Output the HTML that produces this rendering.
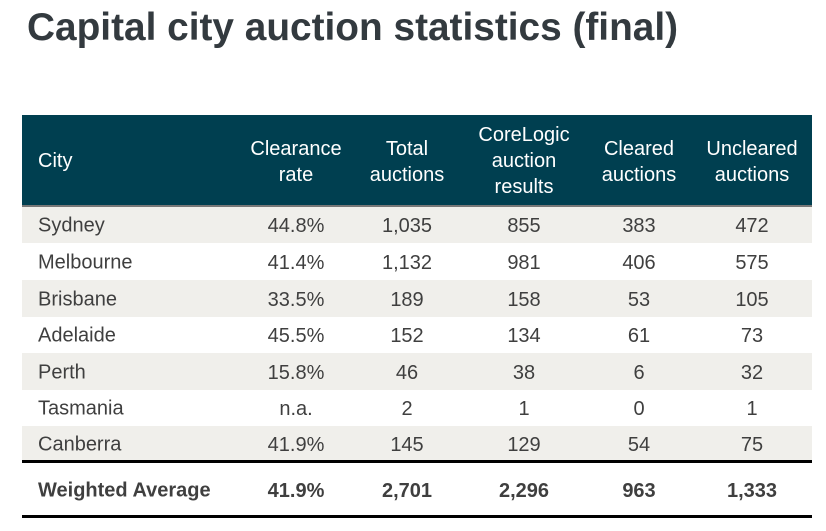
<!DOCTYPE html>
<html><head><meta charset="utf-8"><style>
body{margin:0;width:826px;height:531px;background:#fff;font-family:"Liberation Sans",sans-serif;position:relative;overflow:hidden}
#title{position:absolute;left:27px;top:6px;font-size:38.8px;font-weight:bold;color:#333a3f;white-space:nowrap}
.hdr{position:absolute;left:22px;top:115px;width:790px;height:90px;background:#003f50;border-bottom:2px solid #777}
.cell{position:absolute;transform:translateX(-50%);text-align:center;white-space:nowrap;font-size:20px;line-height:26px}
.hc{color:#fff}
.row{position:absolute;left:22px;width:790px}
.row .cell{color:#3f3f3f;top:calc(50% + 1px);transform:translate(-50%,-50%)}
.row .city{position:absolute;left:16px;top:calc(50% + 1px);transform:translateY(-50%);font-size:20px;color:#3f3f3f}
.g{background:#f0efeb}
.b .cell,.b .city{font-weight:bold;top:calc(50% + 2px)}
.line{position:absolute;left:22px;width:790px;height:3px;background:#000}
</style></head><body>
<div id="title">Capital city auction statistics (final)</div>
<div class="hdr">
<div class="cell hc" style="left:16px;transform:none;top:33px">City</div>
<div class="cell hc" style="left:274px;top:21px">Clearance<br>rate</div>
<div class="cell hc" style="left:385px;top:21px">Total<br>auctions</div>
<div class="cell hc" style="left:502px;top:7px">CoreLogic<br>auction<br>results</div>
<div class="cell hc" style="left:617px;top:21px">Cleared<br>auctions</div>
<div class="cell hc" style="left:730px;top:21px">Uncleared<br>auctions</div>
</div>
<div id="rows"></div>
<div class="line" style="top:460px"></div>
<div class="line" style="top:515px"></div>
<script>
const cities=["Sydney","Melbourne","Brisbane","Adelaide","Perth","Tasmania","Canberra","Weighted Average"];
const rates=["44.8%","41.4%","33.5%","45.5%","15.8%","n.a.","41.9%","41.9%"];
const totals=["1,035","1,132","189","152","46","2","145","2,701"];
const results=["855","981","158","134","38","1","129","2,296"];
const cleared=["383","406","53","61","6","0","54","963"];
const uncleared=["472","575","105","73","32","1","75","1,333"];
const tops=[207,243,280,317,353,390,426,463];
const hts=[36,37,37,36,37,36,35,52];
const xs=[274,385,502,617,730];
const root=document.getElementById('rows');
cities.forEach((c,i)=>{
  const r=document.createElement('div');
  r.className='row'+(i<7&&i%2===0?' g':'')+(i===7?' b':'');
  r.style.top=tops[i]+'px';r.style.height=hts[i]+'px';
  
  
  const n=document.createElement('div');n.className='city';n.textContent=c;
  
  
  r.appendChild(n);
  [rates[i],totals[i],results[i],cleared[i],uncleared[i]].forEach((v,j)=>{
    const d=document.createElement('div');d.className='cell';d.textContent=v;d.style.left=xs[j]+'px';
    
    
    r.appendChild(d);
  });
  root.appendChild(r);
});
</script>
</body></html>
